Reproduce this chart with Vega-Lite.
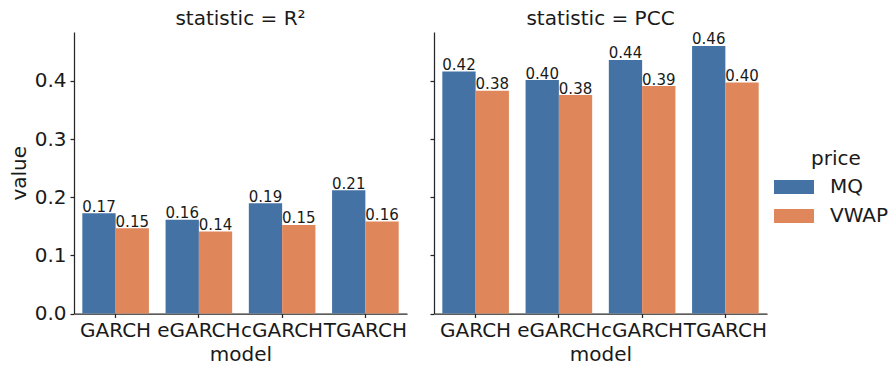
{
  "$schema": "https://vega.github.io/schema/vega-lite/v6.json",
  "padding": {"left": 9, "top": 9, "right": 5, "bottom": 5},
  "config": {
    "font": "DejaVu Sans",
    "view": {"stroke": null},
    "axis": {"grid": false, "domainColor": "#262626", "domainWidth": 1.25, "tickColor": "#262626", "tickWidth": 1.25, "tickSize": 4, "labelColor": "#1a1a1a", "titleColor": "#1a1a1a", "labelFontSize": 20, "titleFontSize": 20, "titleFontWeight": "normal", "labelFont": "DejaVu Sans", "titleFont": "DejaVu Sans"},
    "title": {"fontSize": 20, "fontWeight": "normal", "color": "#1a1a1a", "font": "DejaVu Sans", "anchor": "middle", "baseline": "alphabetic", "offset": 3},
    "legend": {"titleFontSize": 20, "labelFontSize": 20, "titleFontWeight": "normal", "titleColor": "#1a1a1a", "labelColor": "#1a1a1a", "titleFont": "DejaVu Sans", "labelFont": "DejaVu Sans"}
  },
  "data": {"values": [
    {"statistic": "R2", "model": "GARCH", "price": "MQ", "value": 0.1725},
    {"statistic": "R2", "model": "GARCH", "price": "VWAP", "value": 0.1466},
    {"statistic": "R2", "model": "eGARCH", "price": "MQ", "value": 0.161},
    {"statistic": "R2", "model": "eGARCH", "price": "VWAP", "value": 0.1408},
    {"statistic": "R2", "model": "cGARCH", "price": "MQ", "value": 0.1897},
    {"statistic": "R2", "model": "cGARCH", "price": "VWAP", "value": 0.1523},
    {"statistic": "R2", "model": "TGARCH", "price": "MQ", "value": 0.212},
    {"statistic": "R2", "model": "TGARCH", "price": "VWAP", "value": 0.158},
    {"statistic": "PCC", "model": "GARCH", "price": "MQ", "value": 0.416},
    {"statistic": "PCC", "model": "GARCH", "price": "VWAP", "value": 0.383},
    {"statistic": "PCC", "model": "eGARCH", "price": "MQ", "value": 0.4014},
    {"statistic": "PCC", "model": "eGARCH", "price": "VWAP", "value": 0.3756},
    {"statistic": "PCC", "model": "cGARCH", "price": "MQ", "value": 0.436},
    {"statistic": "PCC", "model": "cGARCH", "price": "VWAP", "value": 0.391},
    {"statistic": "PCC", "model": "TGARCH", "price": "MQ", "value": 0.46},
    {"statistic": "PCC", "model": "TGARCH", "price": "VWAP", "value": 0.397}
  ]},
  "spacing": 22,
  "hconcat": [
    {
      "width": 333, "height": 281.5,
      "title": "statistic = R²",
      "transform": [{"filter": "datum.statistic === 'R2'"}],
      "encoding": {
        "x": {"field": "model", "type": "nominal", "sort": ["GARCH", "eGARCH", "cGARCH", "TGARCH"], "scale": {"paddingInner": 0.2, "paddingOuter": 0.1}, "axis": {"labelAngle": 0, "title": "model", "labelPadding": 3, "titlePadding": 4}},
        "xOffset": {"field": "price", "type": "nominal", "sort": ["MQ", "VWAP"]},
        "y": {"field": "value", "type": "quantitative", "scale": {"domain": [0, 0.484], "nice": false}, "axis": {"values": [0, 0.1, 0.2, 0.3, 0.4], "format": ".1f", "title": "value", "titlePadding": 5, "labelPadding": 4}}
      },
      "layer": [
        {"mark": {"type": "bar"}, "encoding": {"color": {"field": "price", "type": "nominal", "sort": ["MQ", "VWAP"], "scale": {"domain": ["MQ", "VWAP"], "range": ["#4472a4", "#df865b"]}, "legend": {"title": "price", "orient": "none", "legendX": 710, "legendY": 117, "titleAnchor": "middle", "symbolType": "M-2,-0.7L2,-0.7L2,0.7L-2,0.7Z", "symbolSize": 400, "symbolStrokeWidth": 0, "labelOffset": 26, "rowPadding": 9, "titlePadding": 8}}}},
        {"mark": {"type": "text", "fontSize": 15, "baseline": "alphabetic", "dy": -1.5, "color": "#1a1a1a"}, "encoding": {"text": {"field": "value", "type": "quantitative", "format": ".2f"}}}
      ]
    },
    {
      "width": 333, "height": 281.5,
      "title": "statistic = PCC",
      "transform": [{"filter": "datum.statistic === 'PCC'"}],
      "encoding": {
        "x": {"field": "model", "type": "nominal", "sort": ["GARCH", "eGARCH", "cGARCH", "TGARCH"], "scale": {"paddingInner": 0.2, "paddingOuter": 0.1}, "axis": {"labelAngle": 0, "title": "model", "labelPadding": 3, "titlePadding": 4}},
        "xOffset": {"field": "price", "type": "nominal", "sort": ["MQ", "VWAP"]},
        "y": {"field": "value", "type": "quantitative", "scale": {"domain": [0, 0.484], "nice": false}, "axis": {"values": [0, 0.1, 0.2, 0.3, 0.4], "labels": false, "title": null}}
      },
      "layer": [
        {"mark": {"type": "bar"}, "encoding": {"color": {"field": "price", "type": "nominal", "sort": ["MQ", "VWAP"], "scale": {"domain": ["MQ", "VWAP"], "range": ["#4472a4", "#df865b"]}}}},
        {"mark": {"type": "text", "fontSize": 15, "baseline": "alphabetic", "dy": -1.5, "color": "#1a1a1a"}, "encoding": {"text": {"field": "value", "type": "quantitative", "format": ".2f"}}}
      ]
    }
  ]
}
